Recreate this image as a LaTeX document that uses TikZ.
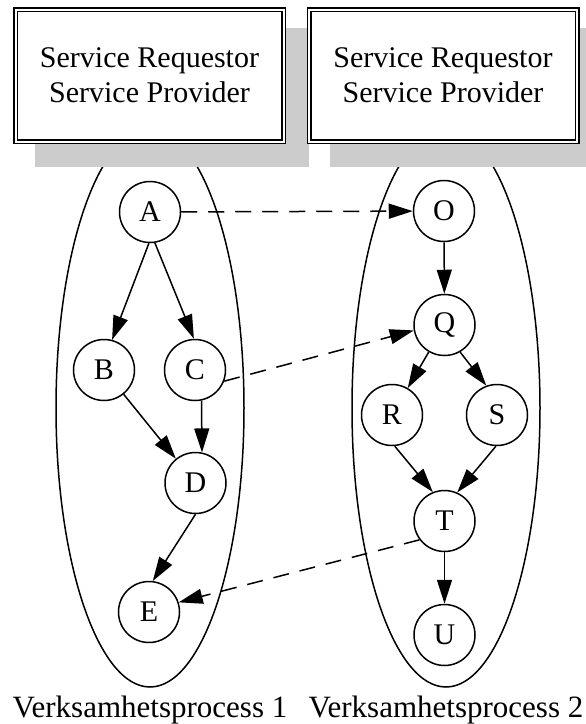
\documentclass[tikz,border=0pt]{standalone}
\usepackage{fontspec}
\setmainfont{Liberation Serif}
\usetikzlibrary{arrows.meta,shapes.geometric}
\definecolor{shadowgray}{gray}{0.8}
\tikzset{
  stage/.style={circle, draw, line width=1.5pt, minimum size=61pt, inner sep=0pt,
    font=\fontsize{30}{36}\selectfont},
  pool/.style={ellipse, draw, line width=1.5pt, inner sep=0pt, outer sep=0pt,
    minimum width=188pt, minimum height=558pt},
  rolebox/.style={rectangle, draw, double, double distance=2pt, line width=1.5pt,
    fill=white, minimum width=268pt, minimum height=132pt, inner sep=0pt,
    align=center, font=\fontsize{30}{35}\selectfont},
  boxshadow/.style={fill=shadowgray},
  caption/.style={anchor=base, inner sep=0pt, font=\fontsize{31}{36}\selectfont},
  flow/.style={line width=1.5pt, -{Triangle[length=24pt,width=15pt]}},
  link/.style={flow, dash pattern=on 16pt off 11pt}
}
\begin{document}
\begin{tikzpicture}[x=1pt, y=-1pt]
  \useasboundingbox (0,0) rectangle (586,724);

  % the two processes
  \node[pool] (proc1) at (150,408) {};
  \node[pool] (proc2) at (446,408) {};

  % shadows under the role boxes
  \fill[boxshadow] (35,28) rectangle (309,167);
  \fill[boxshadow] (330,28) rectangle (602,167);

  % role boxes
  \node[rolebox] (role1) at (149.5,75.5) {Service Requestor\\Service Provider};
  \node[rolebox] (role2) at (443,75.5) {Service Requestor\\Service Provider};

  % process 1
  \node[stage] (A) at (150,212) {A};
  \node[stage] (B) at (104,370) {B};
  \node[stage] (C) at (195,370) {C};
  \node[stage] (D) at (195.5,483) {D};
  \node[stage] (E) at (149,612) {E};

  % process 2
  \node[stage] (O) at (444,211) {O};
  \node[stage] (Q) at (444.5,325) {Q};
  \node[stage] (R) at (392,415) {R};
  \node[stage] (S) at (497,415) {S};
  \node[stage] (T) at (444.5,521) {T};
  \node[stage] (U) at (444.5,635) {U};

  % flows inside process 1
  \draw[flow] (A.268) -- (B.75);
  \draw[flow] (A.279) -- (C.92);
  \draw[flow] (B) -- (D);
  \draw[flow] (C.-78) -- (D.78);
  \draw[flow] (D.-90) -- (E.83);

  % flows inside process 2
  \draw[flow] (O) -- (Q);
  \draw[flow] (Q) -- (R);
  \draw[flow] (Q.-60) -- (S.110);
  \draw[flow] (R.-85) -- (T.112);
  \draw[flow] (S.-92) -- (T.66);
  \draw[flow] (T) -- (U);

  % links between the processes
  \draw[link] (A) -- (O);
  \draw[link] (C.-21) -- (Q.190);
  \draw[link] (T.217) -- (E.18);

  % captions
  \node[caption] (cap1) at (150,717) {Verksamhetsprocess 1};
  \node[caption] (cap2) at (446,717) {Verksamhetsprocess 2};
\end{tikzpicture}
\end{document}
